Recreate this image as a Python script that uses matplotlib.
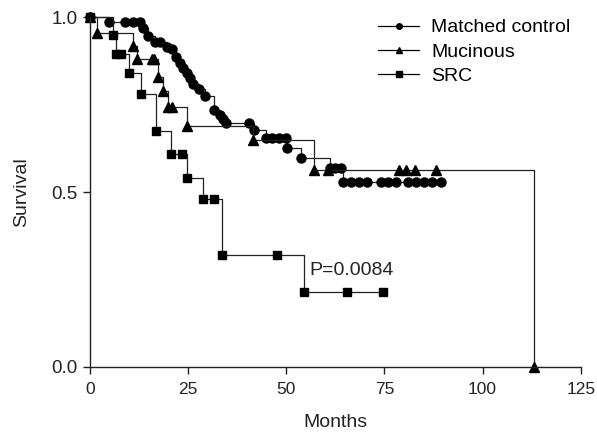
import matplotlib
matplotlib.use('Agg')
import matplotlib.pyplot as plt
from matplotlib.lines import Line2D

plt.rcParams['font.family'] = ['Liberation Sans', 'DejaVu Sans']

# Kaplan-Meier points (time in months, survival); a symbol sits at each point
ctrl_t = [0, 4.8, 8.9, 10.9, 12.7, 13.4, 14.7, 16.5, 17.7, 19.5, 20.8, 22, 22.8, 23.6,
          24.6, 25.4, 26.2, 27.7, 29.4, 31.7, 33, 33.8, 34.7, 40.6, 41.8, 44.9, 46.4,
          48.2, 50, 50.2, 53.8, 61, 62.5, 64, 64.5, 66.5, 68.5, 70.5, 74, 76, 78, 81,
          83, 85, 87, 89.5]
ctrl_s = [1.0, 0.987, 0.987, 0.987, 0.987, 0.97, 0.945, 0.93, 0.93, 0.915, 0.91, 0.886,
          0.868, 0.854, 0.84, 0.826, 0.81, 0.794, 0.774, 0.734, 0.72, 0.708, 0.697, 0.697,
          0.677, 0.654, 0.654, 0.654, 0.654, 0.626, 0.597, 0.569, 0.569, 0.569, 0.53,
          0.53, 0.53, 0.53, 0.53, 0.53, 0.53, 0.53, 0.53, 0.53, 0.53, 0.53]

muc_t = [0, 1.9, 10.9, 11.9, 15.7, 16.2, 17.2, 18.5, 19.8, 20.8, 24.8, 41.6, 57, 60.5,
         78.6, 80.4, 82.9, 88.2, 113]
muc_s = [1.0, 0.955, 0.917, 0.88, 0.88, 0.88, 0.83, 0.79, 0.743, 0.743, 0.69, 0.649,
         0.563, 0.563, 0.563, 0.563, 0.563, 0.563, 0.0]

src_t = [0, 5.8, 6.5, 7.8, 9.8, 12.9, 16.7, 20.7, 23.5, 24.6, 28.7, 31.7, 33.7, 47.7,
         54.5, 65.4, 74.5]
src_s = [1.0, 0.95, 0.895, 0.895, 0.84, 0.78, 0.675, 0.61, 0.61, 0.54, 0.48, 0.48,
         0.32, 0.32, 0.214, 0.214, 0.214]

fig = plt.figure(figsize=(5.97, 4.34), dpi=100)
ax = fig.add_axes([0.1508, 0.1544, 0.822, 0.8064])

series = [
    (ctrl_t, ctrl_s, 'o', 6.5, 'Matched control'),
    (muc_t, muc_s, '^', 6.5, 'Mucinous'),
    (src_t, src_s, 's', 5.8, 'SRC'),
]
handles = []
for t, s, m, ms, name in series:
    ax.step(t, s, where='post', color='#222222', lw=0.9, clip_on=False)
    ax.plot(t, s, linestyle='none', marker=m, ms=ms, color='black', clip_on=False)
    handles.append(Line2D([], [], color='black', lw=0.9, marker=m, ms=4, label=name))

ax.text(55.8, 0.277, 'P=0.0084', fontsize=14, va='center', ha='left', color='#222222')

ax.set_xlim(0, 125)
ax.set_ylim(0, 1.0)
ax.set_xticks([0, 25, 50, 75, 100, 125])
ax.set_yticks([0.0, 0.5, 1.0])
ax.set_yticklabels(['0.0', '0.5', '1.0'])
ax.tick_params(direction='out', length=5, width=1.0, labelsize=13.5, pad=4,
               colors='#222222')
ax.tick_params(axis='x', pad=6, labelsize=12.5)
for side in ['top', 'right']:
    ax.spines[side].set_visible(False)
for side in ['left', 'bottom']:
    ax.spines[side].set_linewidth(1.0)
    ax.spines[side].set_color('#222222')

ax.set_xlabel('Months', fontsize=14, color='#222222', labelpad=12)
ax.set_ylabel('Survival', fontsize=14, color='#222222', labelpad=15)

ax.legend(handles=handles, loc='upper left', bbox_to_anchor=(0.586, 0.995),
          frameon=False, fontsize=14, handlelength=2.15, handletextpad=0.6,
          labelspacing=0.35, borderpad=0, borderaxespad=0)

fig.savefig('out.png', dpi=100)
